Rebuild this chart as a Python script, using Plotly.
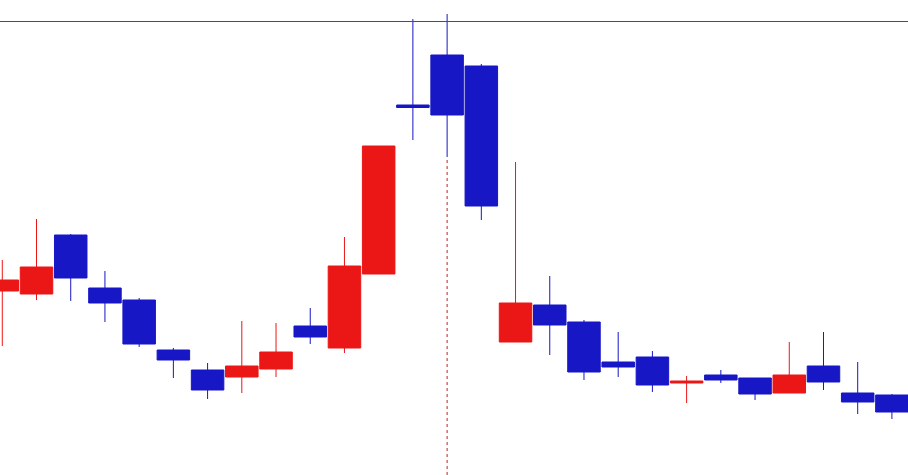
import plotly.graph_objects as go

# candles (price units, no axis shown on the source chart)
bars = list(range(27))
opens = [184, 181, 240, 187, 175, 125, 105, 98, 106, 149, 127, 201, 370, 420,
         409, 133, 170, 153, 113, 118, 92, 100, 97, 82, 109, 82, 80]
highs = [215, 256, 241, 204, 177, 127, 112, 154, 152, 167, 238, 329, 456, 461,
         411, 313, 199, 155, 143, 124, 99, 105, 97, 133, 143, 113, 81]
lows = [129, 175, 174, 153, 128, 97, 76, 82, 98, 131, 122, 201, 335, 318,
        255, 133, 120, 95, 98, 83, 72, 92, 75, 82, 85, 61, 56]
closes = [195, 208, 197, 172, 131, 115, 85, 109, 123, 138, 209, 329, 367.5, 360,
          269, 172, 150, 103, 108, 90, 94, 95, 81, 100, 93, 73, 63]

level_price = 453.5   # horizontal level line
marker_bar = 13       # vertical dotted marker (drawn below that candle's low)

RED = "#EB1616"
BLUE = "#1717C6"

fig = go.Figure()

fig.add_trace(go.Candlestick(
    x=bars, open=opens, high=highs, low=lows, close=closes,
    increasing=dict(line=dict(color=RED, width=1), fillcolor=RED),
    decreasing=dict(line=dict(color=BLUE, width=1), fillcolor=BLUE),
    whiskerwidth=0,
    hoverinfo="skip",
    showlegend=False,
))

fig.add_shape(type="line", xref="x", yref="y", x0=marker_bar, x1=marker_bar,
              y0=0, y1=lows[marker_bar], layer="below",
              line=dict(color="#C42222", width=1, dash="3px,3px"))
fig.add_shape(type="line", xref="paper", yref="y", x0=0, x1=1,
              y0=level_price, y1=level_price, layer="above",
              line=dict(color="#E01010", width=1))

fig.update_layout(
    width=908, height=475,
    margin={"r": 0, "t": 0, "l": 0, "b": 0},
    paper_bgcolor="white", plot_bgcolor="white",
    boxgap=0.05, boxgroupgap=0,
    xaxis=dict(range=[-0.067, 26.47], visible=False, rangeslider=dict(visible=False)),
    yaxis=dict(range=[0, 475], visible=False),
)

fig.write_html("out.html", config={"displayModeBar": False},
               post_script="document.body.style.margin='0';document.body.style.overflow='hidden';")
